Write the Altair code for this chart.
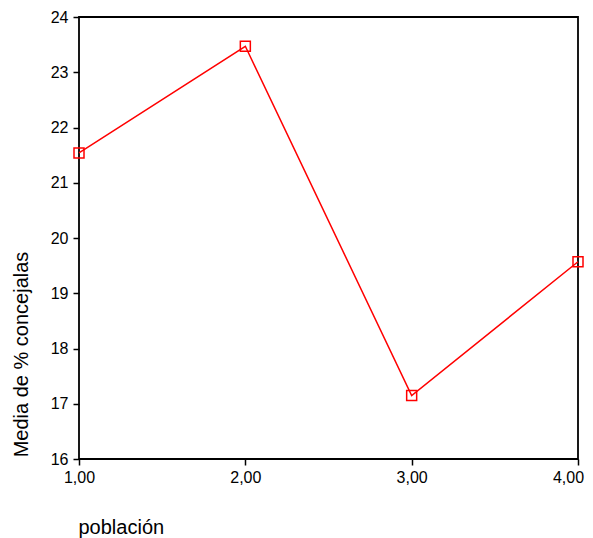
import altair as alt
import pandas as pd

poblacion = [1, 2, 3, 4]
media = [21.54, 23.47, 17.15, 19.57]

df = pd.DataFrame({"poblacion": poblacion, "media": media})

FONT = "Liberation Sans"

x = alt.X("poblacion:Q",
          scale=alt.Scale(domain=[1, 4], nice=False, zero=False),
          axis=alt.Axis(values=[1, 2, 3, 4], title="población",
                        labelExpr="replace(format(datum.value, '.2f'), '.', ',')",
                        labelFlush=False, labelOverlap=False, labelBound=False,
                        labelOffset={"condition": {"test": "datum.value == 4", "value": -10},
                                     "value": 0},
                        grid=False, domain=False, tickSize=6, tickColor="black",
                        tickWidth=1.5, labelPadding=4, labelFontSize=16,
                        labelColor="black", labelFont=FONT,
                        titleFont=FONT, titleFontSize=20, titleFontWeight="normal",
                        titleColor="black", titleAnchor="start", titleAlign="left",
                        titleX=-1, titleY=74, titleBaseline="alphabetic"))
y = alt.Y("media:Q",
          scale=alt.Scale(domain=[16, 24], nice=False, zero=False),
          axis=alt.Axis(values=list(range(16, 25)), title="Media de % concejalas",
                        labelFlush=False, labelOverlap=False,
                        grid=False, domain=False, tickSize=6, tickColor="black",
                        tickWidth=1.5, labelPadding=5, labelFontSize=16,
                        labelColor="black", labelFont=FONT,
                        titleFont=FONT, titleFontSize=20, titleFontWeight="normal",
                        titleColor="black", titleX=-52, titleY=337,
                        titleAlign="center", titleBaseline="alphabetic", titleAngle=-90))

line = alt.Chart(df).mark_line(color="#ff0000", strokeWidth=1.5).encode(x=x, y=y)
pts = alt.Chart(df).mark_point(shape="square", filled=False, color="#ff0000",
                               size=100, strokeWidth=1.5, opacity=1).encode(x=x, y=y)

chart = (line + pts).properties(
    width=499, height=442,
    autosize=alt.AutoSizeParams(type="none"),
    padding={"left": 71, "top": 9, "right": 7, "bottom": 79},
    background="white",
).configure_view(stroke="black", strokeWidth=1.8)

chart.save("out.html", embed_options={"renderer": "svg", "actions": False})
